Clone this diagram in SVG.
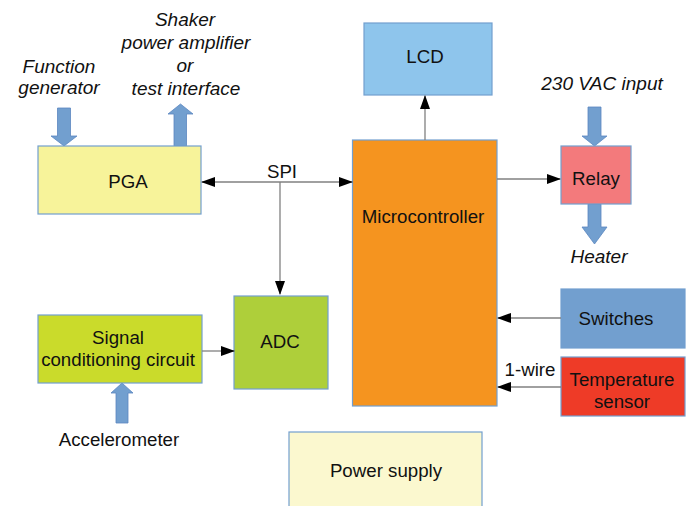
<svg xmlns="http://www.w3.org/2000/svg" width="689" height="506" viewBox="0 0 689 506">
<style>
text{font-family:"Liberation Sans",Arial,sans-serif;font-size:18.7px;fill:#111;text-anchor:middle}
.it{font-style:italic;font-size:19px}
.box{stroke:#729fcf;stroke-width:1.2}
.ln{stroke:#808080;stroke-width:1.3;fill:none}
.fat{fill:#729fcf;stroke:#5b87c0;stroke-width:0.8}
</style>
<defs>
<marker id="ah" markerWidth="14" markerHeight="10" refX="13" refY="5" orient="auto" markerUnits="userSpaceOnUse">
<path d="M0,0 L14,5 L0,10 Z" fill="#000"/>
</marker>
<marker id="as" markerWidth="14" markerHeight="10" refX="1" refY="5" orient="auto" markerUnits="userSpaceOnUse">
<path d="M14,0 L0,5 L14,10 Z" fill="#000"/>
</marker>
</defs>
<g id="labels">
<text class="it" x="59" y="73">Function</text>
<text class="it" x="59" y="94">generator</text>
<text class="it" x="185" y="26">Shaker</text>
<text class="it" x="186" y="49">power amplifier</text>
<text class="it" x="185" y="72">or</text>
<text class="it" x="186" y="95">test interface</text>
<text class="it" x="602" y="90">230 VAC input</text>
<text class="it" x="599" y="263">Heater</text>
<text x="119" y="446">Accelerometer</text>
</g>
<g id="fat-arrows">
<path class="fat" d="M57.5,108 H70.5 V136 H77 L64,146 L51,136 H57.5 Z"/>
<path class="fat" d="M174,146 V114 H168 L180.5,104 L193,114 H186.5 V146 Z"/>
<path class="fat" d="M588,107 H601 V136 H607 L594.5,146 L582,136 H588 Z"/>
<path class="fat" d="M588,204 H601 V227 H607 L594.5,244 L582,227 H588 Z"/>
<path class="fat" d="M116,423 V393 H111 L122,383 L133,393 H128 V423 Z"/>
</g>
<g id="pga"><rect class="box" x="38" y="146" width="163" height="68" fill="#f7f39a"/><text x="128" y="188">PGA</text></g>
<g id="lcd"><rect class="box" x="364" y="23" width="128" height="72" fill="#8ec5ec"/><text x="425" y="63">LCD</text></g>
<g id="microcontroller"><rect class="box" x="352.5" y="140" width="144.5" height="266" fill="#f5941f"/><text x="423" y="223">Microcontroller</text></g>
<g id="relay"><rect class="box" x="561" y="146" width="70" height="58" fill="#f37a7c"/><text x="596" y="185">Relay</text></g>
<g id="signal"><rect class="box" x="38" y="315" width="164" height="68" fill="#cadb2b"/><text x="118" y="344">Signal</text><text x="118" y="366">conditioning circuit</text></g>
<g id="adc"><rect class="box" x="234" y="296" width="94" height="93" fill="#aecf3a"/><text x="280" y="348">ADC</text></g>
<g id="switches"><rect class="box" x="561" y="289" width="124" height="59" fill="#729fcf"/><text x="616" y="325">Switches</text></g>
<g id="temperature"><rect class="box" x="561" y="357" width="124" height="59" fill="#ee3b27"/><text x="622" y="386">Temperature</text><text x="622" y="408">sensor</text></g>
<g id="power"><rect class="box" x="289" y="432" width="193" height="80" fill="#fbf8cf"/><text x="386" y="477">Power supply</text></g>
<g id="connectors">
<line class="ln" x1="202" y1="182" x2="352" y2="182" marker-start="url(#as)" marker-end="url(#ah)"/>
<text x="282" y="178">SPI</text>
<line class="ln" x1="280" y1="182" x2="280" y2="294" marker-end="url(#ah)"/>
<line class="ln" x1="425" y1="140" x2="425" y2="96" marker-end="url(#ah)"/>
<line class="ln" x1="497" y1="179" x2="560" y2="179" marker-end="url(#ah)"/>
<line class="ln" x1="202" y1="351" x2="234" y2="351" marker-end="url(#ah)"/>
<line class="ln" x1="561" y1="318" x2="498" y2="318" marker-end="url(#ah)"/>
<line class="ln" x1="561" y1="387" x2="498" y2="387" marker-end="url(#ah)"/>
<text x="530" y="376">1-wire</text>
</g>
</svg>
